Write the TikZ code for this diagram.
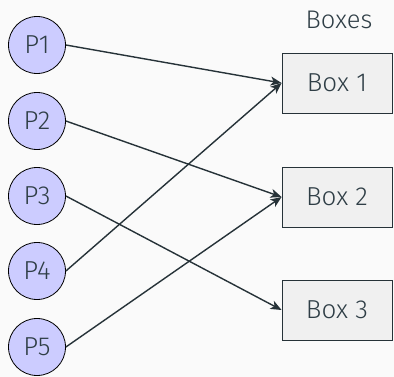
\documentclass[tikz,border=0pt]{standalone}
\usepackage{fontspec}
\setmainfont{Fira Sans}[UprightFont=* Light]
\usetikzlibrary{arrows.meta}
\definecolor{ink}{HTML}{2F3E46}
\definecolor{edge}{HTML}{263238}
\definecolor{pfill}{HTML}{CCCCFF}
\definecolor{bfill}{HTML}{F0F0F0}
\definecolor{bg}{HTML}{FAFAFA}
\tikzset{
  pnode/.style={circle, draw=black, line width=0.8pt, fill=pfill, minimum size=57pt, inner sep=0pt, text=ink, font=\fontsize{26}{26}\selectfont},
  boxnode/.style={rectangle, draw=edge, line width=0.9pt, fill=bfill, minimum width=110pt, minimum height=60pt, inner sep=0pt, text=ink, font=\fontsize{26}{26}\selectfont},
  link/.style={draw=edge, line width=1.4pt, -{Stealth[length=11pt, width=9pt, inset=3pt]}},
  title/.style={text=ink, font=\fontsize{25.5}{25.5}\selectfont}
}
\begin{document}
\begin{tikzpicture}[x=1pt, y=-1pt]
\fill[bg] (0,0) rectangle (394,377);
\useasboundingbox (0,0) rectangle (394,377);
\node[pnode] (P1) at (37,45) {P1};
\node[pnode] (P2) at (37,121) {P2};
\node[pnode] (P3) at (37,196) {P3};
\node[pnode] (P4) at (37,271) {P4};
\node[pnode] (P5) at (37,347) {P5};
\node[boxnode] (B1) at (337,83) {Box 1};
\node[boxnode] (B2) at (337,197) {Box 2};
\node[boxnode] (B3) at (337,310) {Box 3};
\node[title] (T) at (339,20) {Boxes};
\draw[link] (P1.east) -- (B1.west);
\draw[link] (P2.east) -- (B2.west);
\draw[link] (P3.east) -- (B3.west);
\draw[link] (P4.east) -- (B1.west);
\draw[link] (P5.east) -- (B2.west);
\end{tikzpicture}
\end{document}
